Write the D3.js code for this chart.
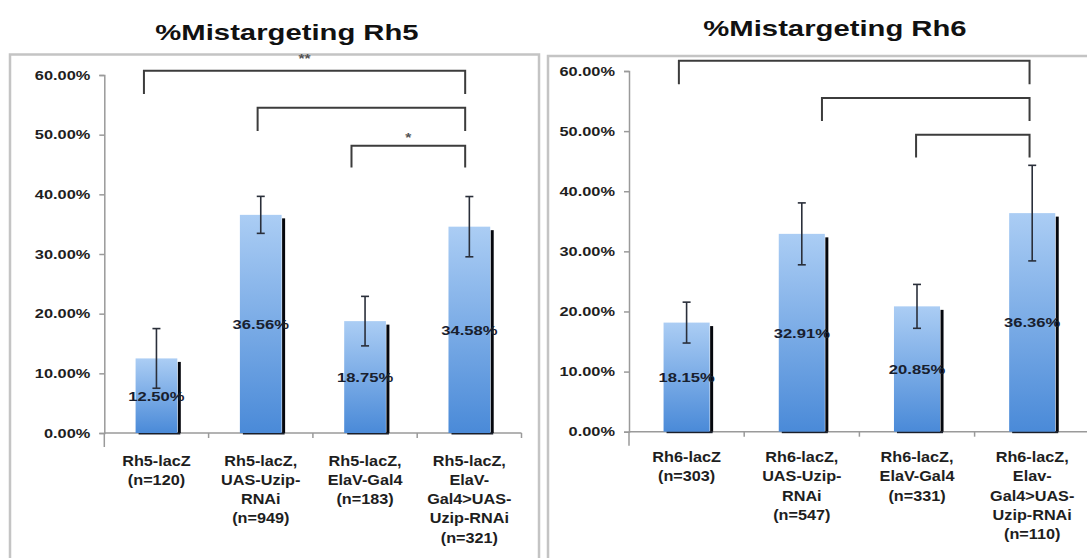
<!DOCTYPE html>
<html>
<head>
<meta charset="utf-8">
<script src="https://cdn.jsdelivr.net/npm/d3@7"></script>
<style>
  html, body { margin: 0; padding: 0; background: #fff; }
  svg { display: block; }
  text { font-family: "Liberation Sans", Arial, sans-serif; font-weight: bold; }
</style>
</head>
<body>
<svg id="chart" width="1087" height="558"></svg>
<script>
// ---- Rh5 panel data ----
const categoriesRh5 = ["Rh5-lacZ", "Rh5-lacZ, UAS", "Rh5-lacZ, ElaV", "Rh5-lacZ, ElaV>UAS"];
const labelLinesRh5 = [
  ["Rh5-lacZ", "(n=120)"],
  ["Rh5-lacZ,", "UAS-Uzip-", "RNAi", "(n=949)"],
  ["Rh5-lacZ,", "ElaV-Gal4", "(n=183)"],
  ["Rh5-lacZ,", "ElaV-", "Gal4>UAS-", "Uzip-RNAi", "(n=321)"]
];
const valuesRh5 = [12.50, 36.56, 18.75, 34.58];
const errorsRh5 = [5.0, 3.1, 4.15, 5.05];
// significance brackets: from/to category index, small offsets within the band, heights in %
const bracketsRh5 = [
  { from: 0, fromOff: -0.12, to: 3, toOff: -0.04, top: 60.7, leg: 56.8, mark: "**", markAt: 63.1 },
  { from: 1, fromOff: -0.03, to: 3, toOff: -0.04, top: 54.5, leg: 50.6, mark: "", markAt: 0 },
  { from: 2, fromOff: -0.13, to: 3, toOff: -0.04, top: 48.15, leg: 44.5, mark: "*", markAt: 49.8 }
];

// ---- Rh6 panel data ----
const categoriesRh6 = ["Rh6-lacZ", "Rh6-lacZ, UAS", "Rh6-lacZ, ElaV", "Rh6-lacZ, Elav>UAS"];
const labelLinesRh6 = [
  ["Rh6-lacZ", "(n=303)"],
  ["Rh6-lacZ,", "UAS-Uzip-", "RNAi", "(n=547)"],
  ["Rh6-lacZ,", "ElaV-Gal4", "(n=331)"],
  ["Rh6-lacZ,", "Elav-", "Gal4>UAS-", "Uzip-RNAi", "(n=110)"]
];
const valuesRh6 = [18.15, 32.91, 20.85, 36.36];
const errorsRh6 = [3.4, 5.15, 3.65, 7.95];
const bracketsRh6 = [
  { from: 0, fromOff: -0.067, to: 3, toOff: -0.023, top: 61.7, leg: 57.8, mark: "", markAt: 0 },
  { from: 1, fromOff: 0.175, to: 3, toOff: -0.023, top: 55.5, leg: 51.7, mark: "", markAt: 0 },
  { from: 2, fromOff: -0.008, to: 3, toOff: -0.023, top: 49.4, leg: 45.6, mark: "", markAt: 0 }
];

const yTicks = [0, 10, 20, 30, 40, 50, 60];

const svg = d3.select("#chart");
svg.append("rect").attr("width", 1087).attr("height", 558).attr("fill", "#fff");

const defs = svg.append("defs");
const grad = defs.append("linearGradient").attr("id", "barFill")
  .attr("x1", 0).attr("y1", 0).attr("x2", 0).attr("y2", 1);
grad.append("stop").attr("offset", "0%").attr("stop-color", "#abcdf4");
grad.append("stop").attr("offset", "100%").attr("stop-color", "#4a8ad8");

// text is drawn slightly wide, as in the original slide
function stretched(sel, x, y, sx) {
  return sel.attr("transform", `translate(${x},${y}) scale(${sx},1)`);
}

function drawPanel(cfg) {
  const g = svg.append("g");

  // panel frame
  g.append("rect")
    .attr("x", cfg.frame[0]).attr("y", cfg.frame[1])
    .attr("width", cfg.frame[2] - cfg.frame[0]).attr("height", cfg.frame[3] - cfg.frame[1])
    .attr("fill", "none").attr("stroke", "#c4c4c4").attr("stroke-width", 2.5);

  // title
  stretched(g.append("text"), cfg.titleX, cfg.titleY, 1.33)
    .attr("text-anchor", "middle").attr("font-size", 22).attr("fill", "#111")
    .text(cfg.title);

  const n = cfg.categories.length;
  const slot = d3.scaleBand().domain(cfg.categories)
    .range([cfg.x0, cfg.x0 + n * cfg.step]).padding(0);
  const x = d3.scaleBand().domain(cfg.categories)
    .range([cfg.x0, cfg.x0 + n * cfg.step]).paddingInner(0.6).paddingOuter(0.3);
  const y = d3.scaleLinear().domain([0, 60]).range([cfg.yBottom, cfg.yTop]);
  const center = (i, off) => slot(cfg.categories[i]) + slot.bandwidth() * (0.5 + off);

  // y axis
  const yAxis = g.append("g").attr("transform", `translate(${cfg.x0},0)`)
    .call(d3.axisLeft(y).tickValues(yTicks).tickSize(5).tickFormat(() => ""));
  yAxis.select(".domain").attr("stroke", "#9a9a9a").attr("stroke-width", 1.5);
  yAxis.selectAll(".tick line").attr("stroke", "#9a9a9a").attr("stroke-width", 1.5);
  g.selectAll(".ylab").data(yTicks).join("text")
    .attr("class", "ylab")
    .each(function (d) { stretched(d3.select(this), cfg.x0 - 14, y(d) + 4.7, 1.26); })
    .attr("text-anchor", "end").attr("font-size", 13).attr("fill", "#1e1e1e")
    .text(d => d.toFixed(2) + "%");

  // x axis line with ticks at category boundaries
  const xEnd = cfg.x0 + n * cfg.step;
  g.append("line").attr("x1", cfg.x0).attr("x2", xEnd)
    .attr("y1", cfg.yBottom).attr("y2", cfg.yBottom)
    .attr("stroke", "#9a9a9a").attr("stroke-width", 1.5);
  const bounds = d3.range(n + 1).map(i => cfg.x0 + i * slot.step());
  g.selectAll(".xtick").data(bounds).join("line")
    .attr("x1", d => d).attr("x2", d => d)
    .attr("y1", cfg.yBottom).attr("y2", (d, i) => cfg.yBottom + (i === 0 ? 14 : 5))
    .attr("stroke", "#9a9a9a").attr("stroke-width", 1.5);

  // bar shadows
  const rows = cfg.categories.map((c, i) => ({ c, v: cfg.values[i], e: cfg.errors[i], i }));
  g.selectAll(".shadow").data(rows).join("rect")
    .attr("x", d => x(d.c) + x.bandwidth() + 0.5)
    .attr("y", d => y(d.v) + 3.5)
    .attr("width", 3)
    .attr("height", d => cfg.yBottom - y(d.v) - 3.5)
    .attr("fill", "#05070d");
  g.selectAll(".shadowB").data(rows).join("rect")
    .attr("x", d => x(d.c) + 3)
    .attr("y", cfg.yBottom - 0.5)
    .attr("width", x.bandwidth())
    .attr("height", 2)
    .attr("fill", "#1a1f2a");

  // bars
  g.selectAll(".bar").data(rows).join("rect")
    .attr("x", d => x(d.c))
    .attr("y", d => y(d.v))
    .attr("width", x.bandwidth())
    .attr("height", d => cfg.yBottom - y(d.v))
    .attr("fill", "url(#barFill)");

  // error bars
  const ex = d => x(d.c) + x.bandwidth() / 2;
  const eg = g.append("g").attr("stroke", "#2a2f3a").attr("stroke-width", 1.6);
  eg.selectAll(".ev").data(rows).join("line")
    .attr("x1", ex).attr("x2", ex)
    .attr("y1", d => y(d.v + d.e)).attr("y2", d => y(d.v - d.e));
  eg.selectAll(".et").data(rows).join("line")
    .attr("x1", d => ex(d) - 4).attr("x2", d => ex(d) + 4)
    .attr("y1", d => y(d.v + d.e)).attr("y2", d => y(d.v + d.e));
  eg.selectAll(".eb").data(rows).join("line")
    .attr("x1", d => ex(d) - 4).attr("x2", d => ex(d) + 4)
    .attr("y1", d => y(d.v - d.e)).attr("y2", d => y(d.v - d.e));

  // value labels at mid-height of each bar
  g.selectAll(".val").data(rows).join("text")
    .each(function (d) { stretched(d3.select(this), ex(d), y(d.v / 2) + 5, 1.23); })
    .attr("text-anchor", "middle").attr("font-size", 13.5).attr("fill", "#18202e")
    .text(d => d.v.toFixed(2) + "%");

  // category labels
  rows.forEach(d => {
    cfg.labels[d.i].forEach((line, k) => {
      stretched(g.append("text"), slot(d.c) + slot.bandwidth() / 2, cfg.labelY + k * 19.3, 1.12)
        .attr("text-anchor", "middle").attr("font-size", 14.5).attr("fill", "#1e1e1e")
        .text(line);
    });
  });

  // significance brackets
  const bg = g.append("g").attr("fill", "none").attr("stroke", "#3c3c3c").attr("stroke-width", 2);
  cfg.brackets.forEach(b => {
    const xa = center(b.from, b.fromOff), xb = center(b.to, b.toOff);
    bg.append("path").attr("d", d3.line()([
      [xa, y(b.leg)], [xa, y(b.top)], [xb, y(b.top)], [xb, y(b.leg)]
    ]));
    if (b.mark) {
      stretched(g.append("text"), (xa + xb) / 2, y(b.markAt) + 6, 1.2)
        .attr("text-anchor", "middle").attr("font-size", 13).attr("fill", "#555")
        .text(b.mark);
    }
  });
}

drawPanel({
  title: "%Mistargeting Rh5", titleX: 287, titleY: 40,
  frame: [10, 54.5, 539, 580],
  x0: 104.3, step: 104.3, yTop: 75, yBottom: 433, labelY: 465.5,
  categories: categoriesRh5, labels: labelLinesRh5,
  values: valuesRh5, errors: errorsRh5, brackets: bracketsRh5
});

drawPanel({
  title: "%Mistargeting Rh6", titleX: 835, titleY: 36,
  frame: [548, 56, 1110, 580],
  x0: 629, step: 115.2, yTop: 71, yBottom: 431.7, labelY: 462,
  categories: categoriesRh6, labels: labelLinesRh6,
  values: valuesRh6, errors: errorsRh6, brackets: bracketsRh6
});
</script>
</body>
</html>
